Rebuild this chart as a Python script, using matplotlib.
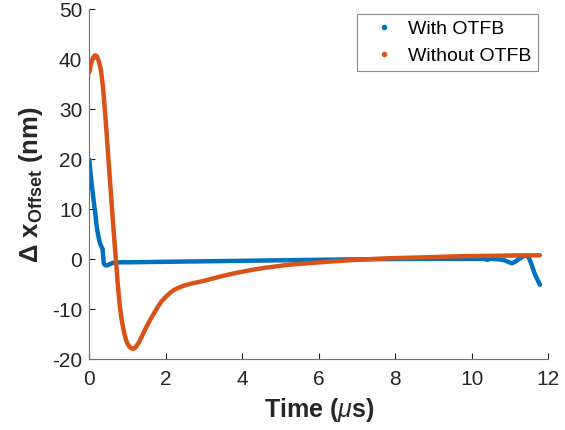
import matplotlib
matplotlib.use('Agg')
import matplotlib.pyplot as plt
from matplotlib.lines import Line2D

# Offset readings (nm) vs time (us)
t_with = [0.00, 0.03, 0.06, 0.10, 0.15, 0.20, 0.24, 0.28, 0.32, 0.35, 0.36, 0.38,
          0.42, 0.48, 0.55, 0.62, 0.80, 1.00, 1.50, 2.00, 3.00, 4.00, 5.00, 6.00,
          7.00, 8.00, 9.00, 10.00, 10.30, 10.40, 10.50, 10.70, 10.85, 10.95, 11.05,
          11.15, 11.30, 11.40, 11.48, 11.55, 11.65, 11.78]
x_with = [19.9, 17.5, 15.2, 12.6, 9.5, 6.2, 4.5, 3.2, 2.5, 2.0, 0.8, -0.9,
          -1.2, -1.2, -0.9, -0.7, -0.6, -0.6, -0.55, -0.5, -0.4, -0.3, -0.2, -0.1,
          0.0, 0.05, 0.1, 0.1, 0.1, -0.1, 0.1, 0.0, -0.2, -0.5, -0.8,
          -0.4, 0.4, 0.8, 0.5, -0.8, -3.0, -5.1]

t_without = [0.00, 0.05, 0.10, 0.15, 0.20, 0.25, 0.30, 0.35, 0.40, 0.45, 0.50, 0.55,
             0.60, 0.65, 0.70, 0.75, 0.80, 0.85, 0.90, 0.95, 1.00, 1.05, 1.10, 1.15,
             1.20, 1.30, 1.40, 1.50, 1.60, 1.70, 1.80, 1.90, 2.00, 2.10, 2.20, 2.30,
             2.50, 2.70, 3.00, 3.25, 3.50, 3.85, 4.20, 4.50, 4.80, 5.20, 5.70, 6.20,
             6.60, 7.00, 7.40, 7.80, 8.30, 8.80, 9.20, 9.60, 10.00, 10.50, 11.00,
             11.40, 11.78]
x_without = [37.4, 39.2, 40.4, 40.8, 40.6, 39.6, 38.0, 35.0, 30.5, 25.5, 20.0, 14.8,
             9.5, 4.3, -0.5, -5.5, -9.5, -12.3, -14.3, -15.9, -16.9, -17.5, -17.8, -17.9,
             -17.7, -16.6, -15.0, -13.4, -12.0, -10.7, -9.4, -8.3, -7.5, -6.8, -6.2, -5.8,
             -5.2, -4.8, -4.3, -3.8, -3.3, -2.7, -2.2, -1.8, -1.5, -1.1, -0.8, -0.5,
             -0.3, -0.1, 0.05, 0.2, 0.3, 0.4, 0.5, 0.6, 0.65, 0.7, 0.75,
             0.8, 0.8]

labels = ['With OTFB', 'Without OTFB']
xticks = [0, 2, 4, 6, 8, 10, 12]
yticks = [-20, -10, 0, 10, 20, 30, 40, 50]

blue = '#0072BD'
orange = '#D95319'
axcol = '#262626'

plt.rcParams['font.family'] = ['Liberation Sans', 'DejaVu Sans']
plt.rcParams['mathtext.fontset'] = 'custom'
plt.rcParams['mathtext.rm'] = 'Liberation Sans'
plt.rcParams['mathtext.it'] = 'Liberation Sans:italic'
plt.rcParams['mathtext.bf'] = 'Liberation Sans:bold'
plt.rcParams['axes.unicode_minus'] = False

fig = plt.figure(figsize=(5.65, 4.3), dpi=100)
ax = fig.add_axes([89.3 / 565, 1 - 359.3 / 430, (548.3 - 89.3) / 565, (359.3 - 9.3) / 430])

# dense traces drawn as thick round-capped lines
ax.plot(t_with, x_with, '-', color=blue, lw=3.2, solid_capstyle='round', solid_joinstyle='round')
ax.plot(t_without, x_without, '-', color=orange, lw=3.2, solid_capstyle='round', solid_joinstyle='round')

ax.set_xlim(0, 12)
ax.set_ylim(-20, 50)
ax.set_xticks(xticks)
ax.set_yticks(yticks)
ax.tick_params(direction='in', length=4, width=0.8, colors=axcol, labelsize=15)
ax.tick_params(axis='x', pad=8)
ax.tick_params(axis='y', pad=5)
for s in ['top', 'right']:
    ax.spines[s].set_visible(False)
for s in ['left', 'bottom']:
    ax.spines[s].set_color('#707070')
    ax.spines[s].set_linewidth(0.8)

ax.set_xlabel('Time ($\\mu$s)', fontsize=18, fontweight='bold', color=axcol, labelpad=5)
ax.set_ylabel('Δ x$_{\\mathbf{Offset}}$ (nm)', fontsize=18.5, fontweight='bold', color=axcol, labelpad=5)

# legend shows dot markers only
handles = [Line2D([], [], ls='none', marker='.', ms=6, color=c) for c in (blue, orange)]
leg = ax.legend(handles, labels, loc='upper right', bbox_to_anchor=(0.978, 0.987), fontsize=14,
                frameon=True, fancybox=False, edgecolor='#707070', handlelength=2.0,
                handletextpad=0.25, borderpad=0.35, labelspacing=0.45, borderaxespad=0)
leg.get_frame().set_linewidth(0.8)

fig.savefig('out.png', dpi=100)
